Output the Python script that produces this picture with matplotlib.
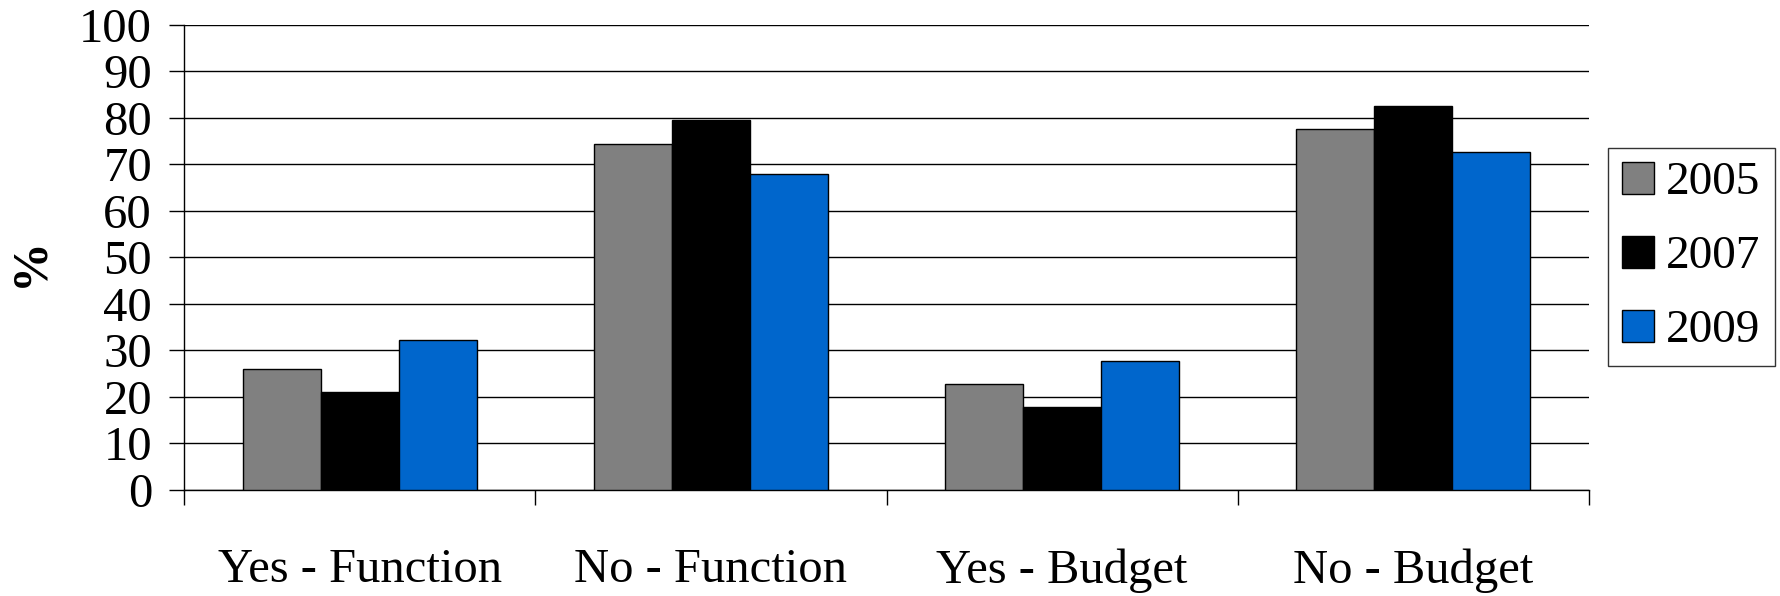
import numpy as np
import matplotlib
matplotlib.use('Agg')
import matplotlib.pyplot as plt

# 数据
categories=['Yes - Function','No - Function','Yes - Budget','No - Budget']
years=['2005','2007','2009']
v2005=[26,74.4,22.8,77.6]
v2007=[21,79.6,17.9,82.6]
v2009=[32.2,68,27.8,72.6]
colors=['#808080','#000000','#0066CC']

plt.rcParams['font.family']=['Liberation Serif','DejaVu Serif']

fig=plt.figure(figsize=(17.8,5.96),dpi=100)
ax=fig.add_axes([0.1034,0.1779,0.7893,0.7802])

x=np.arange(len(categories))
w=2/9
for i,(vals,lab) in enumerate(zip([v2005,v2007,v2009],years)):
    ax.bar(x+(i-1)*w,vals,width=w,color=colors[i],edgecolor='black',linewidth=1.0,label=lab,zorder=3)

# 坐标轴
ax.set_xlim(-0.5,3.5)
ax.set_ylim(0,100)
ax.set_yticks(range(0,101,10))
ax.tick_params(axis='y',labelsize=35,length=11,width=1.0,pad=12,direction='out')
ax.set_xticks(x)
ax.set_xticklabels(categories,fontsize=35)
ax.tick_params(axis='x',which='major',length=0,pad=42)
ax.set_xticks([-0.5,0.5,1.5,2.5,3.5],minor=True)
ax.tick_params(axis='x',which='minor',length=11,width=1.0,direction='out')
ax.yaxis.grid(True,color='black',linewidth=1.0,zorder=0)
ax.set_axisbelow(True)
for s in ['top','right']:
    ax.spines[s].set_visible(False)
ax.spines['left'].set_linewidth(1.0)
ax.spines['bottom'].set_linewidth(1.0)
# y轴标题
fig.text(30/1780,1-262/596,'%',fontsize=36,fontweight='bold',rotation=90,ha='center',va='center')

# 图例
leg=fig.legend(loc='center left',bbox_to_anchor=(1608/1780,(596-257)/596),fontsize=34,
               frameon=True,fancybox=False,edgecolor='black',borderaxespad=0,
               handlelength=0.68,handleheight=0.68,handletextpad=0.25,labelspacing=0.66,
               borderpad=0.3)
leg.get_frame().set_linewidth(1.0)

plt.savefig('out.png',dpi=100)
